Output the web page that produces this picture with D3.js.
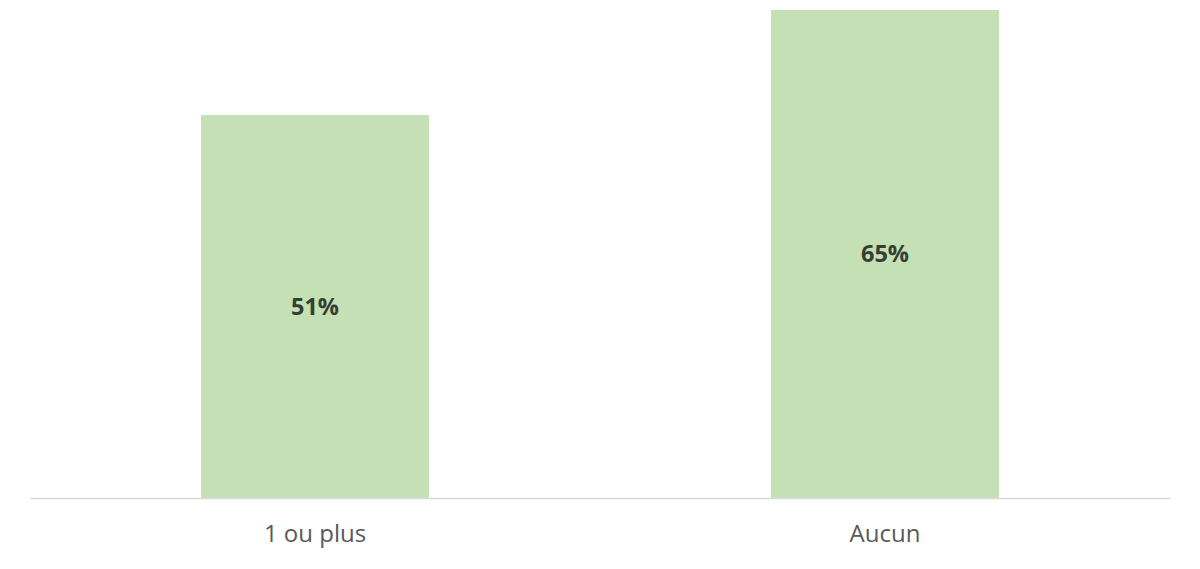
<!DOCTYPE html>
<html>
<head>
<meta charset="utf-8">
<script src="https://cdn.jsdelivr.net/npm/d3@7"></script>
<style>
  body { margin: 0; background: #fff; }
  #bar { width: 1200px; height: 569px; }
  text { font-family: "Open Sans", Lato, sans-serif; }
</style>
</head>
<body>
<div id="bar"></div>
<script>
const categories = ["1 ou plus", "Aucun"];
const values = [51, 65];
const labels = ["51%", "65%"];

const data = categories.map((c, i) => [c, values[i], labels[i]]);

const width = 1200, height = 569;
const margin = { left: 30, right: 30, top: 10, bottom: 71 };
const innerW = width - margin.left - margin.right;
const innerH = height - margin.top - margin.bottom;

const svg = d3.select("#bar").append("svg")
  .attr("width", width)
  .attr("height", height);

const g = svg.append("g")
  .attr("transform", `translate(${margin.left},${margin.top})`);

const x = d3.scaleBand()
  .domain(categories)
  .range([0, innerW])
  .paddingInner(0.6)
  .paddingOuter(0.3);

const y = d3.scaleLinear()
  .domain([0, d3.max(values)])
  .range([innerH, 0]);

// bars
g.selectAll("rect")
  .data(data)
  .join("rect")
  .attr("x", d => x(d[0]))
  .attr("y", d => y(d[1]))
  .attr("width", x.bandwidth())
  .attr("height", d => innerH - y(d[1]))
  .attr("fill", "#c5e0b4");

// labels in the middle of bars
g.selectAll(".val")
  .data(data)
  .join("text")
  .attr("class", "val")
  .attr("x", d => x(d[0]) + x.bandwidth() / 2)
  .attr("y", d => (y(d[1]) + innerH) / 2)
  .attr("dy", "0.35em")
  .attr("text-anchor", "middle")
  .attr("font-size", 23.5)
  .attr("font-weight", "bold")
  .attr("fill", "#333f33")
  .text(d => d[2]);

// x axis
const axisX = g.append("g")
  .attr("transform", `translate(0,${innerH})`)
  .call(d3.axisBottom(x).tickSize(0).tickPadding(27));
axisX.select(".domain").attr("stroke", "#d9d9d9").attr("stroke-width", 1.5);
axisX.selectAll("text")
  .attr("font-size", 24)
  .attr("fill", "#595959")
  .style("font-family", "'Open Sans', Lato, sans-serif");
</script>
</body>
</html>
